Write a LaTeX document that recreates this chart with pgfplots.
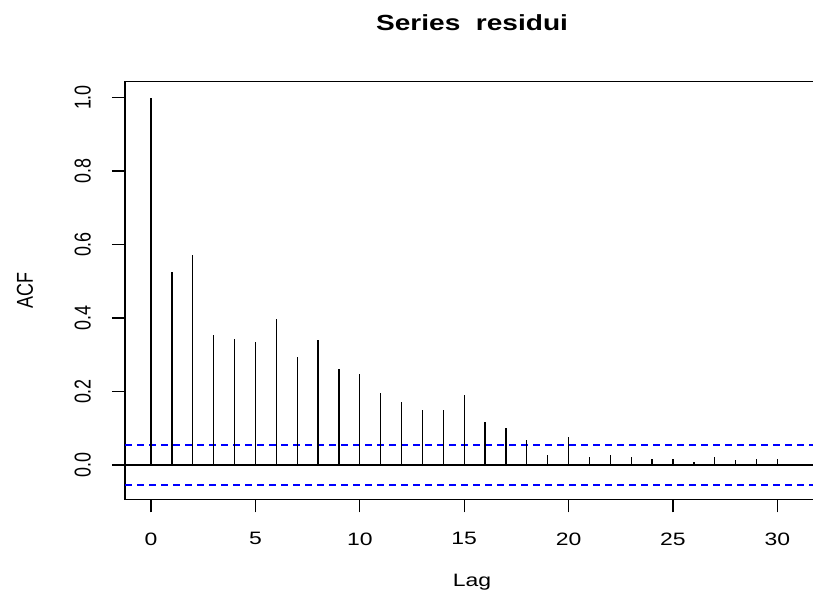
\documentclass[border=0pt]{standalone}
\usepackage{pgfplots}
\pgfplotsset{compat=1.18}
\usepackage{fontspec}
\setmainfont{Liberation Sans}
\usepackage{graphicx}
\newcommand{\hs}[1]{\scalebox{1.28}[1]{#1}}
\newcommand{\vs}[1]{\scalebox{1}[1.28]{#1}}
\begin{document}
\begin{tikzpicture}
\begin{axis}[
  at={(125bp,100.7bp)}, anchor=south west,
  x=20.88bp, y=367.5bp,
  xmin=-1.245, xmax=32, ymin=-0.0933, ymax=1.043,
  axis line style={black, line width=1.3bp},
  xtick={0,5,10,15,20,25,30},
  xticklabels={\hs{0},\hs{5},\hs{10},\hs{15},\hs{20},\hs{25},\hs{30}},
  ytick={0,0.2,0.4,0.6,0.8,1.0},
  yticklabels={\vs{0.0},\vs{0.2},\vs{0.4},\vs{0.6},\vs{0.8},\vs{1.0}},
  xtick pos=left, ytick pos=left,
  tick align=outside, major tick length=13bp,
  tick style={black, line width=1.3bp},
  font=\fontsize{18}{21}\selectfont,
  xticklabel style={anchor=north, inner sep=0pt},
  yticklabel style={anchor=south, rotate=90, inner sep=0pt},
  xticklabel shift=20bp,
  yticklabel shift=21bp,
  title={\hs{\textbf{Series\ \ residui}}},
  title style={font=\fontsize{22}{26}\selectfont, anchor=base, at={(axis description cs:0.5,1)}, yshift=45bp},
  xlabel={\hs{Lag}},
  xlabel style={anchor=base, at={(axis description cs:0.5,0)}, yshift=-86.7bp},
  ylabel={\vs{ACF}},
  ylabel style={anchor=center, at={(axis description cs:-0.144,0.5)}},
]
\addplot[blue, line width=1.3bp, dash pattern=on 7bp off 5bp] coordinates {(-1.245,0.0545) (32,0.0545)};
\addplot[blue, line width=1.3bp, dash pattern=on 7bp off 5bp] coordinates {(-1.245,-0.0545) (32,-0.0545)};
\addplot[black, line width=1.3bp] coordinates {(-1.245,0) (32,0)};
\addplot[ycomb, black, line width=1.3bp, mark=none] table {
x y
0 1.000
1 0.526
2 0.571
3 0.353
4 0.344
5 0.334
6 0.397
7 0.294
8 0.339
9 0.260
10 0.249
11 0.195
12 0.171
13 0.151
14 0.151
15 0.190
16 0.116
17 0.102
18 0.067
19 0.027
20 0.077
21 0.023
22 0.027
23 0.023
24 0.017
25 0.017
26 0.008
27 0.023
28 0.013
29 0.017
30 0.017
};
\end{axis}
\pgfresetboundingbox
\path[use as bounding box] (0,0) rectangle (813bp,600bp);
\end{tikzpicture}
\end{document}
